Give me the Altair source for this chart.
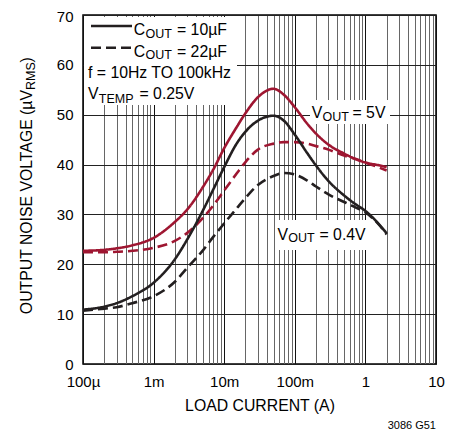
import altair as alt
import pandas as pd

# ---------------- data ----------------
load_current = [1e-4, 2e-4, 3e-4, 5e-4, 1e-3, 2e-3, 3e-3, 5e-3, 7e-3, 1e-2,
                1.5e-2, 2e-2, 3e-2, 5e-2, 7e-2, 0.1, 0.15, 0.2, 0.3, 0.5,
                0.7, 1.0, 1.5, 2.0]

noise_5v_10uf = [22.7, 22.9, 23.2, 23.8, 25.3, 28.5, 31.0, 35.5, 39.0, 43.3,
                 47.5, 50.3, 53.5, 55.2, 54.0, 51.5, 48.2, 46.2, 44.0, 42.2,
                 41.2, 40.4, 39.9, 39.5]
noise_5v_22uf = [22.4, 22.4, 22.5, 22.7, 23.3, 24.7, 26.3, 29.3, 31.8, 34.8,
                 38.2, 40.5, 43.0, 44.2, 44.5, 44.5, 44.2, 43.7, 43.0, 41.8,
                 41.2, 40.4, 39.5, 38.8]
noise_04v_10uf = [10.9, 11.5, 12.2, 13.6, 16.3, 21.0, 25.0, 30.8, 35.0, 39.5,
                  44.2, 46.6, 48.8, 49.8, 48.8, 46.0, 42.3, 39.8, 36.7, 33.8,
                  32.2, 30.7, 28.3, 26.2]
noise_04v_22uf = [10.7, 11.1, 11.4, 12.2, 13.6, 16.5, 19.3, 22.8, 25.5, 28.2,
                  31.2, 33.3, 35.9, 37.7, 38.3, 38.0, 36.8, 35.6, 34.0, 32.5,
                  31.5, 30.4, 28.2, 26.0]

series_vout = ["5V", "5V", "0.4V", "0.4V"]
series_cout = ["10µF", "22µF", "10µF", "22µF"]
series_vals = [noise_5v_10uf, noise_5v_22uf, noise_04v_10uf, noise_04v_22uf]

decades = [1e-4, 1e-3, 1e-2, 1e-1, 1, 10]
decade_labels = ["100µ", "1m", "10m", "100m", "1", "10"]
y_ticks = [0, 10, 20, 30, 40, 50, 60, 70]

rows = []
for v, c, vals in zip(series_vout, series_cout, series_vals):
    for x, y in zip(load_current, vals):
        rows.append({"current": x, "noise": y, "vout": v, "cout": c,
                     "series": v + " " + c})
df = pd.DataFrame(rows)

# ---------------- styling ----------------
FONT = "Liberation Sans, Arial, Helvetica, sans-serif"
RED = "#9e1631"
BLACK = "#231f20"
LW = 2.6
DASH = [10, 5]
BIG = 15.8
SUB = 12.5
TICK = 15
DY = -3  # annotation offset (plot area starts 3px lower)

grid_values = []
for d in decades[:-1]:
    for k in range(1, 10):
        grid_values.append(float(f"{k * d:.6g}"))
grid_values.append(10.0)

label_expr = " : ".join(
    f"abs(datum.value - {d}) < {d * 1e-3} ? '{lab}'" for d, lab in zip(decades, decade_labels)
) + " : ''"
major_test = " || ".join(f"abs(datum.value - {d}) < {d * 1e-3}" for d in decades)

x_axis = alt.Axis(
    values=grid_values, labelExpr=label_expr, labelOverlap=False, labelFlush=False,
    ticks=False, domain=False, grid=True,
    gridColor={"condition": {"test": major_test, "value": "#111111"}, "value": "#666666"},
    gridWidth=1, labelFontSize=TICK, labelPadding=10, labelColor="black", labelFont=FONT,
    title="LOAD CURRENT (A)", titleFontSize=BIG, titleFontWeight="normal", titleFont=FONT,
    titleColor="black", titlePadding=9,
)
y_axis = alt.Axis(
    values=y_ticks, ticks=False, domain=False, grid=True, gridColor="#222222", gridWidth=1,
    labelFontSize=TICK, labelPadding=10, labelColor="black", labelFont=FONT, title=None,
    labelOffset={"condition": {"test": "datum.value == 70", "value": 1.5}, "value": 0},
)

lines = alt.Chart(df).mark_line(strokeWidth=LW, interpolate="monotone").encode(
    x=alt.X("current:Q", scale=alt.Scale(type="log", domain=[1e-4, 10], nice=False), axis=x_axis),
    y=alt.Y("noise:Q", scale=alt.Scale(domain=[0, 70], nice=False), axis=y_axis),
    color=alt.Color("vout:N", scale=alt.Scale(domain=["5V", "0.4V"], range=[RED, BLACK]), legend=None),
    strokeDash=alt.StrokeDash("cout:N", scale=alt.Scale(domain=["10µF", "22µF"], range=[[1, 0], DASH]), legend=None),
    detail="series:N",
)

one = pd.DataFrame({"k": [0]})


def box(x1, x2, y1, y2):
    return alt.Chart(one).mark_rect(color="white").encode(
        x=alt.value(x1), x2=alt.value(x2), y=alt.value(y1 + DY), y2=alt.value(y2 + DY))


def txt(s, x, y, size, align="left", angle=0):
    return alt.Chart(one).mark_text(
        align=align, baseline="alphabetic", fontSize=size, font=FONT, color="black", angle=angle
    ).encode(x=alt.value(x), y=alt.value(y + DY), text=alt.value(s))


def sample(y, dash):
    m = alt.Chart(one).mark_rule(color=BLACK, strokeWidth=LW, strokeDash=dash)
    return m.encode(x=alt.value(8), x2=alt.value(49), y=alt.value(y + DY))


layers = [
    box(1, 154, 5, 93),
    box(227, 307, 88, 112),
    box(192, 288, 208, 238),
    lines,
    sample(14, [1, 0]),
    sample(35.7, DASH),
    txt("C", 50.7, 23, BIG), txt("OUT", 62.5, 26.3, SUB), txt("= 10µF", 94, 23, BIG),
    txt("C", 50.7, 44.7, BIG), txt("OUT", 62.5, 47.3, SUB), txt("= 22µF", 94, 44.7, BIG),
    txt("f = 10Hz TO 100kHz", 5, 66.3, BIG),
    txt("V", 5, 87.3, BIG), txt("TEMP", 15.8, 90.7, SUB), txt("= 0.25V", 56.5, 87.3, BIG),
    txt("V", 228.7, 106.3, BIG), txt("OUT", 239.5, 108.7, SUB), txt("= 5V", 269.5, 106.3, BIG),
    txt("V", 194.5, 228, BIG), txt("OUT", 205.3, 230, SUB), txt("= 0.4V", 236.5, 228, BIG),
    txt("OUTPUT NOISE VOLTAGE (µV", -51, 78, BIG, align="right", angle=270),
    txt("RMS", -48.5, 78, SUB, align="left", angle=270),
    txt(")", -51, 50.5, BIG, align="left", angle=270),
    txt("3086 G51", 353, 417, 11, align="right"),
]

chart = alt.layer(*layers).properties(
    width=353, height=349,
    autosize=alt.AutoSizeParams(type="none"),
    padding={"left": 75, "top": 7, "right": 27, "bottom": 67},
).configure_view(stroke="black", strokeWidth=1.5)

chart.save("out.html", embed_options={"renderer": "svg", "actions": False})
